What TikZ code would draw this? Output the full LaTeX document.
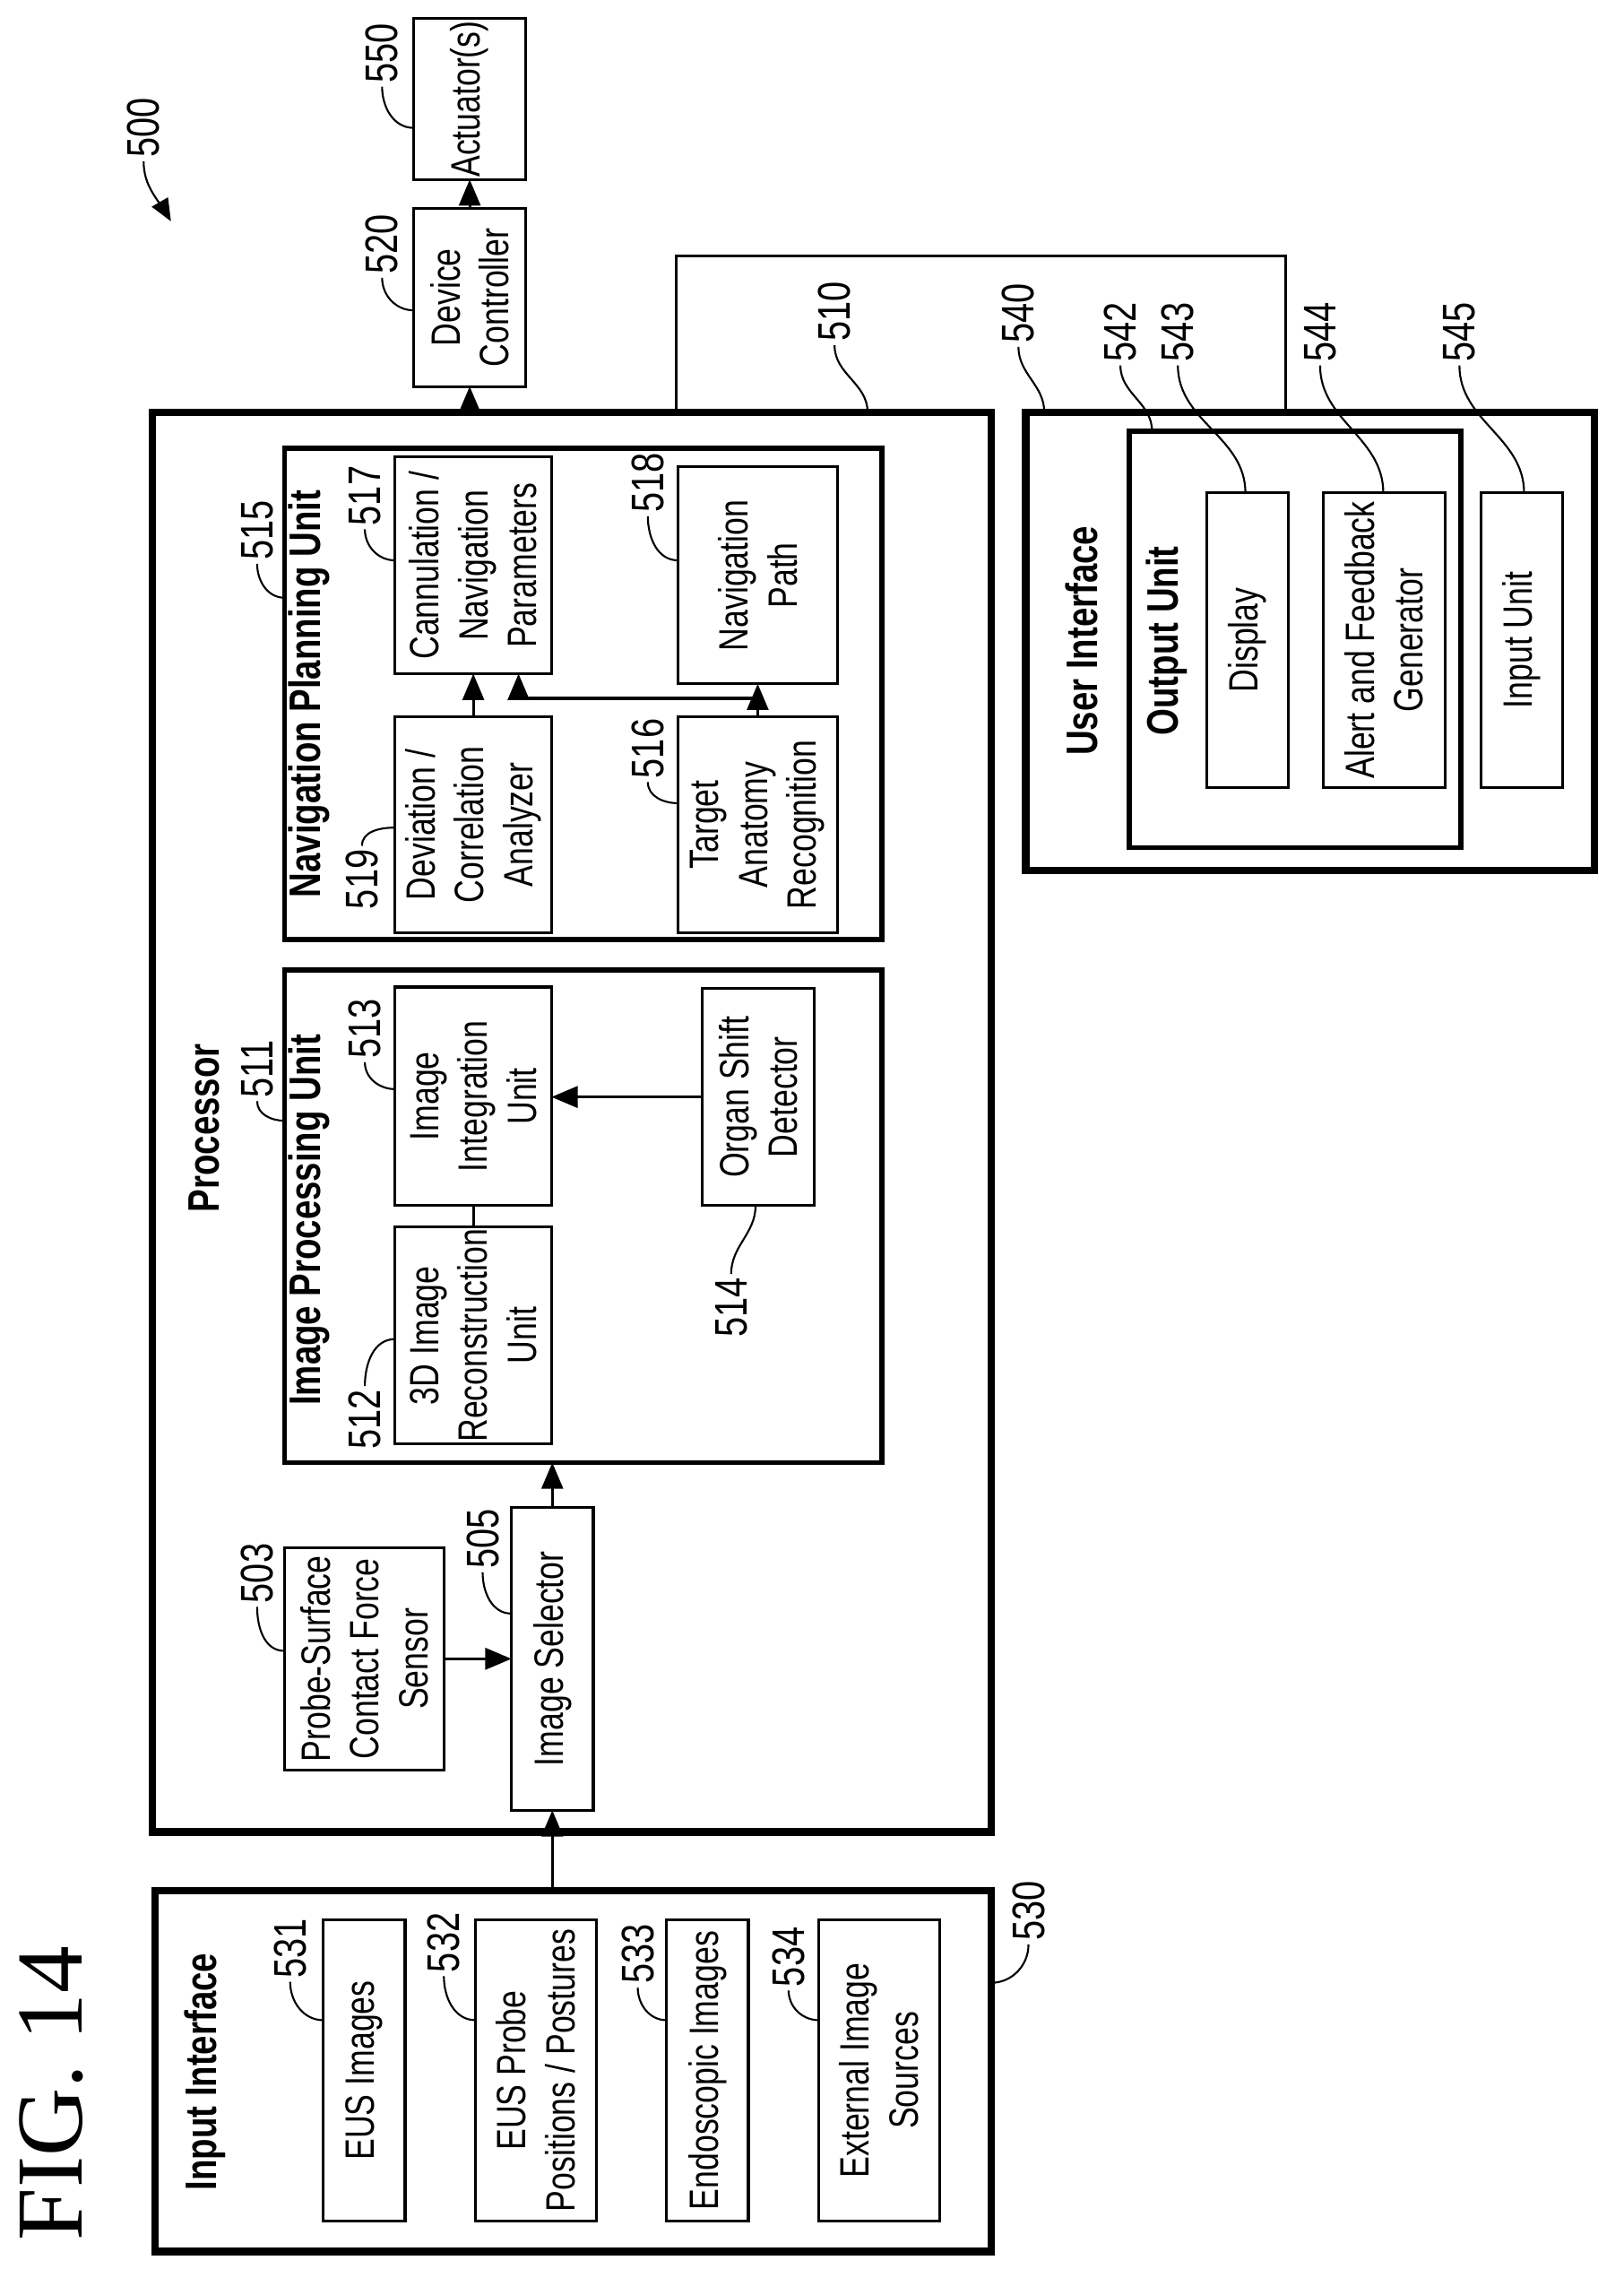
\documentclass[tikz,border=0pt]{standalone}
\usepackage{fontspec}
\setmainfont[FakeStretch=0.78]{Liberation Sans}
\newfontfamily\figfont{Liberation Serif}
\usepackage{tikz}
\usetikzlibrary{arrows}
\newcommand\du{0.016027cm}
\tikzstyle{blk} = [rectangle, draw, rotate=90, align=center, inner sep=0, outer sep=0, line width=0.9pt, font=\fontsize{13}{15.5}\selectfont]
\tikzstyle{grp} = [blk, line width=1.6pt]
\tikzstyle{outer} = [blk, line width=2.4pt]
\tikzstyle{ttl} = [rotate=90, inner sep=1pt, font=\fontsize{14}{16}\selectfont\bfseries]
\tikzstyle{num} = [rotate=90, inner sep=1pt, font=\fontsize{14.5}{16}\selectfont]
\tikzstyle{line} = [draw, line width=0.9pt, -triangle 45]
\tikzstyle{leader} = [draw, line width=0.6pt]
% box from page corners (x1,y1) to (x2,y2)
\newcommand\blk[7]{\node[#1, minimum width={(#5-#3)*\du}, minimum height={(#4-#2)*\du}] (#6) at ({(#2+#4)/2},{(#3+#5)/2}) {#7};}

\begin{document}
\begin{tikzpicture}[x=\du, y=-\du]
\useasboundingbox (0,0) rectangle (1130,1579.2);

% outer blocks
\blk{outer}{106}{287}{690}{1275}{proc}{}
\blk{outer}{108}{1316}{690}{1567}{inp}{}
\blk{outer}{714}{287}{1110}{606}{ui}{}
\blk{blk}{288}{13}{366}{125}{act}{Actuator(s)}
\blk{blk}{288}{145}{366}{269}{dc}{Device\\Controller}

% processor
\node[ttl] (tproc) at (142,785) {Processor};
\blk{grp}{198}{312}{614}{654}{npu}{}
\blk{grp}{198}{675}{614}{1018}{ipu}{}
\node[ttl] (tnpu) at (215,483) {Navigation Planning Unit};
\node[ttl] (tipu) at (215,849) {Image Processing Unit};
\blk{blk}{275}{318}{384}{469}{can}{Cannulation /\\Navigation\\Parameters}
\blk{blk}{472}{325}{583}{476}{nav}{Navigation\\Path}
\blk{blk}{275}{499}{384}{649}{dev}{Deviation /\\Correlation\\Analyzer}
\blk{blk}{472}{499}{583}{649}{tgt}{Target\\Anatomy\\Recognition}
\blk{blk}{275}{687}{384}{839}{integ}{Image\\Integration\\Unit}
\blk{blk}{275}{854}{384}{1005}{rec}{3D Image\\Reconstruction\\Unit}
\blk{blk}{489}{688}{567}{839}{org}{Organ Shift\\Detector}
\blk{blk}{198}{1077}{309}{1232}{sens}{Probe-Surface\\Contact Force\\Sensor}
\blk{blk}{356}{1049}{413}{1260}{sel}{Image Selector}

% input interface
\node[ttl] (tinp) at (143,1442) {Input Interface};
\blk{blk}{225}{1336}{282}{1546}{eus}{EUS Images}
\blk{blk}{331}{1336}{415}{1546}{probe}{EUS Probe\\Positions / Postures}
\blk{blk}{464}{1336}{521}{1546}{endo}{Endoscopic Images}
\blk{blk}{570}{1336}{654}{1546}{ext}{External Image\\Sources}

% user interface
\node[ttl] (tui) at (753,446) {User Interface};
\blk{grp}{786}{300}{1017}{590}{out}{}
\node[ttl] (tout) at (812,446) {Output Unit};
\blk{blk}{840}{343}{897}{548}{disp}{Display}
\blk{blk}{921}{343}{1006}{548}{alert}{Alert and Feedback\\Generator}
\blk{blk}{1031}{343}{1088}{548}{iu}{Input Unit}

\node[rotate=90, font=\fontsize{30}{30}\selectfont\figfont] (fig) at (36,1457) {FIG. 14};

% connectors
\path [line] (dc.west |- proc.east) -- (dc.west);
\path [line] (dc.east) -- (act.west);
\path [line] (sel.west |- inp.east) -- (sel.west);
\path [line] (sens.south) -- (sens.south -| sel.north);
\path [line] (sel.east) -- (sel.east |- ipu.west);
\path [line] (org.north) -- (org.north -| integ.south);
\draw [line width=0.9pt] (rec.east) -- (integ.west);
\path [line] (dev.east) -- (dev.east |- can.west);
\path [line] (tgt.east) -- (tgt.east |- nav.west);
\coordinate (br) at (527,486);
\coordinate (cb) at (361,469);
\path [line] (br) -| (cb);
\coordinate (t1) at (471,178);
\coordinate (t2) at (895,178);
\draw [line width=0.9pt] (t1 |- proc.east) -- (t1) -- (t2) -- (t2 |- ui.east);

% reference numerals
\node[num] (n500) at (100,89) {500};
\draw [leader, -triangle 45] (n500.west) to[out=-90, in=120] (119,154);
\node[num] (n550) at (266,37) {550};
\draw [leader] (n550.west) to[out=-90, in=180] (288,89);
\node[num] (n520) at (266,170) {520};
\draw [leader] (n520.west) to[out=-90, in=180] (288,216);
\node[num] (n510) at (581,217) {510};
\draw [leader] (n510.west) to[out=-90, in=90] (604,287);
\node[num] (n515) at (179,369) {515};
\draw [leader] (n515.west) to[out=-90, in=180] (198,416);
\node[num] (n511) at (179,744) {511};
\draw [leader] (n511.west) to[out=-90, in=180] (198,780);
\node[num] (n517) at (254,345) {517};
\draw [leader] (n517.west) to[out=-90, in=180] (275,390);
\node[num] (n518) at (451,336) {518};
\draw [leader] (n518.west) to[out=-90, in=180] (472,390);
\node[num] (n519) at (252,612) {519};
\draw [leader] (n519.east) to[out=90, in=180] (275,576);
\node[num] (n516) at (451,521) {516};
\draw [leader] (n516.west) to[out=-90, in=180] (472,559);
\node[num] (n513) at (254,716) {513};
\draw [leader] (n513.west) to[out=-90, in=180] (275,758);
\node[num] (n512) at (254,988) {512};
\draw [leader] (n512.east) to[out=90, in=180] (275,932);
\node[num] (n514) at (509,910) {514};
\draw [leader] (n514.east) to[out=90, in=-90] (526,839);
\node[num] (n503) at (179,1095) {503};
\draw [leader] (n503.west) to[out=-90, in=180] (198,1149);
\node[num] (n505) at (336,1071) {505};
\draw [leader] (n505.west) to[out=-90, in=180] (356,1123);
\node[num] (n531) at (202,1356) {531};
\draw [leader] (n531.west) to[out=-90, in=180] (225,1406);
\node[num] (n532) at (309,1352) {532};
\draw [leader] (n532.west) to[out=-90, in=180] (331,1406);
\node[num] (n533) at (444,1360) {533};
\draw [leader] (n533.west) to[out=-90, in=180] (464,1406);
\node[num] (n534) at (549,1362) {534};
\draw [leader] (n534.west) to[out=-90, in=180] (570,1406);
\node[num] (n530) at (716,1330) {530};
\draw [leader] (n530.west) to[out=-90, in=0] (690,1380);
\node[num] (n540) at (709,218) {540};
\draw [leader] (n540.west) to[out=-90, in=90] (727,287);
\node[num] (n542) at (780,231) {542};
\draw [leader] (n542.west) to[out=-90, in=90] (802,300);
\node[num] (n543) at (820,231) {543};
\draw [leader] (n543.west) to[out=-90, in=90] (867,343);
\node[num] (n544) at (919,231) {544};
\draw [leader] (n544.west) to[out=-90, in=90] (963,343);
\node[num] (n545) at (1016,231) {545};
\draw [leader] (n545.west) to[out=-90, in=90] (1061,343);

\end{tikzpicture}
\end{document}
